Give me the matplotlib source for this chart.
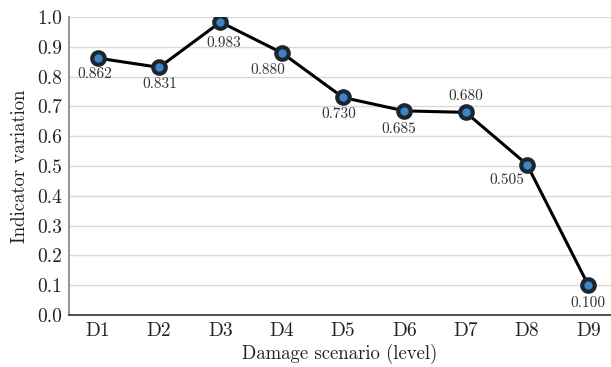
import matplotlib.pyplot as plt

plt.rcParams['font.family'] = ['cmr10', 'DejaVu Serif']
plt.rcParams['axes.formatter.use_mathtext'] = True

scenarios = ['D1', 'D2', 'D3', 'D4', 'D5', 'D6', 'D7', 'D8', 'D9']
values = [0.862, 0.831, 0.983, 0.880, 0.730, 0.685, 0.680, 0.505, 0.100]
yticks = [0.0, 0.1, 0.2, 0.3, 0.4, 0.5, 0.6, 0.7, 0.8, 0.9, 1.0]
# label offsets in pixels (dx, dy)
offsets = [(-3, -16), (1, -17), (3, -21), (-14, -17), (-4, -17),
           (-6, -18), (0, 16), (-20, -16), (0, -18)]

fig = plt.figure(figsize=(6.11, 3.67), dpi=100)
ax = fig.add_axes([69 / 611, 1 - 315 / 367, 542 / 611, 298 / 367])

x = list(range(len(scenarios)))
ax.plot(x, values, color='black', lw=2.2, zorder=3)
ax.plot(x, values, 'o', ms=9, mfc='#3d85c6', mec='#1c2630', mew=3, zorder=4)

for i, v in enumerate(values):
    dx, dy = offsets[i]
    ax.annotate('%.3f' % v, (i, v), xytext=(dx, dy), textcoords='offset pixels',
                ha='center', va='center', fontsize=11, color='#333333')

ax.set_xlim(-0.47, 8.37)
ax.set_ylim(0, 1.0)
ax.set_xticks(x)
ax.set_xticklabels(scenarios, fontsize=14, color='#222222')
ax.set_yticks(yticks)
ax.set_yticklabels(['%.1f' % t for t in yticks], fontsize=14, color='#222222')
ax.tick_params(axis='x', length=0, pad=5)
ax.tick_params(axis='y', length=0, pad=5)
ax.grid(axis='y', color='#d9d9d9', lw=1)
ax.set_axisbelow(True)
for s in ['top', 'right']:
    ax.spines[s].set_visible(False)
ax.spines['left'].set_color('#999999')
ax.spines['left'].set_linewidth(1.5)
ax.spines['bottom'].set_color('#333333')
ax.spines['bottom'].set_linewidth(1.2)
ax.set_xlabel('Damage scenario (level)', fontsize=13.5, labelpad=3, color='#222222')
ax.set_ylabel('Indicator variation', fontsize=13.5, labelpad=6, color='#222222')

fig.savefig('out.png', dpi=100)
